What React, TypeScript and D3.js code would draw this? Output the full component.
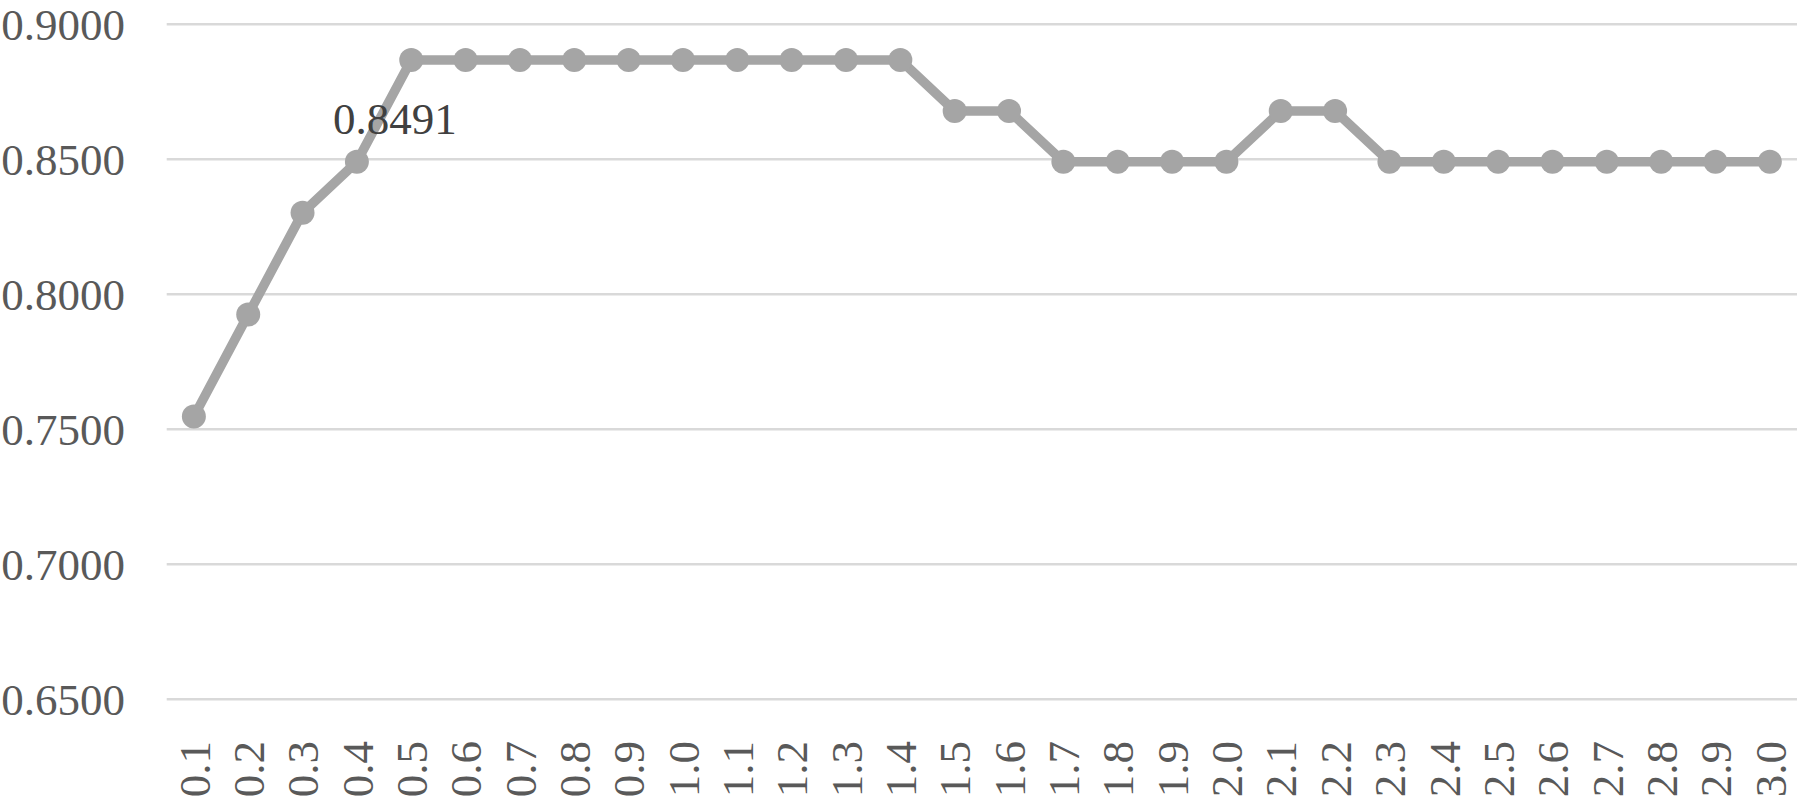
import React from "react";
import * as d3 from "d3";

const categories: string[] = [
  "0.1", "0.2", "0.3", "0.4", "0.5", "0.6", "0.7", "0.8", "0.9", "1.0",
  "1.1", "1.2", "1.3", "1.4", "1.5", "1.6", "1.7", "1.8", "1.9", "2.0",
  "2.1", "2.2", "2.3", "2.4", "2.5", "2.6", "2.7", "2.8", "2.9", "3.0",
];
const values: number[] = [
  0.7547, 0.7925, 0.8302, 0.8491, 0.8868, 0.8868, 0.8868, 0.8868, 0.8868, 0.8868,
  0.8868, 0.8868, 0.8868, 0.8868, 0.8679, 0.8679, 0.8491, 0.8491, 0.8491, 0.8491,
  0.8679, 0.8679, 0.8491, 0.8491, 0.8491, 0.8491, 0.8491, 0.8491, 0.8491, 0.8491,
];
const yTicks: number[] = [0.65, 0.7, 0.75, 0.8, 0.85, 0.9];
const labelIndex = 3;

const W = 1801;
const H = 796;

export default function App() {
  const x = d3.scaleBand<string>().domain(categories).range([166.7, 1797]);
  const y = d3.scaleLinear().domain([0.65, 0.9]).range([699.3, 24.3]);
  const cx = (c: string) => (x(c) as number) + x.bandwidth() / 2;
  const line = d3
    .line<number>()
    .x((_, i) => cx(categories[i]))
    .y((v) => y(v));
  const font = "'Liberation Serif', 'Times New Roman', serif";
  return (
    <svg
      width={W}
      height={H}
      style={{ position: "absolute", left: 0, top: 0, background: "#fff" }}
    >
      {yTicks.map((t) => (
        <g key={t}>
          <line x1={166.7} x2={1797} y1={y(t)} y2={y(t)} stroke="#D9D9D9" strokeWidth={2.5} />
          <text
            x={125}
            y={y(t)}
            dy="0.35em"
            textAnchor="end"
            fontFamily={font}
            fontSize={45}
            fill="#595959"
          >
            {d3.format(".4f")(t)}
          </text>
        </g>
      ))}
      <path d={line(values) || ""} fill="none" stroke="#A5A5A5" strokeWidth={9.5} strokeLinejoin="round" />
      {values.map((v, i) => (
        <circle key={i} cx={cx(categories[i])} cy={y(v)} r={12} fill="#A5A5A5" />
      ))}
      {categories.map((c) => (
        <text
          key={c}
          transform={`translate(${cx(c)},741) rotate(-90)`}
          dy="0.35em"
          textAnchor="end"
          fontFamily={font}
          fontSize={45}
          fill="#595959"
        >
          {c}
        </text>
      ))}
      <text
        x={cx(categories[labelIndex]) + 38}
        y={y(values[labelIndex]) - 28}
        textAnchor="middle"
        fontFamily={font}
        fontSize={45}
        fill="#404040"
      >
        {d3.format(".4f")(values[labelIndex])}
      </text>
    </svg>
  );
}
